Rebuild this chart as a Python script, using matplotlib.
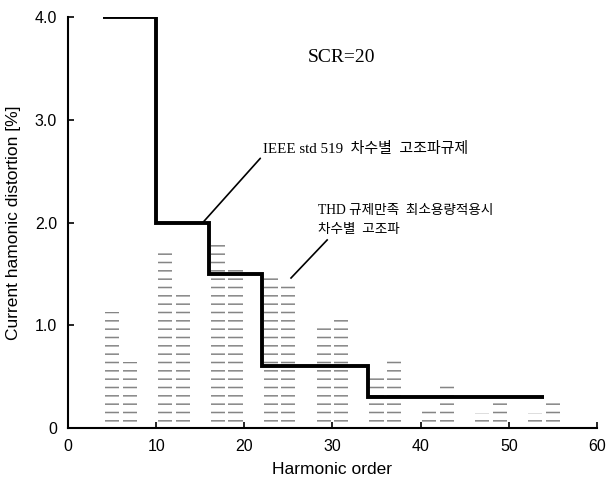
import matplotlib
matplotlib.use('Agg')
import matplotlib.pyplot as plt

# harmonic orders and measured distortion (THD-limited minimum capacity)
orders = [5, 7, 11, 13, 17, 19, 23, 25, 29, 31, 35, 37, 41, 43, 47, 49, 53, 55]
harmonics = [1.13, 0.64, 1.71, 1.34, 1.80, 1.56, 1.47, 1.42, 0.97, 1.05,
             0.52, 0.67, 0.22, 0.44, 0.15, 0.29, 0.15, 0.30]

# IEEE std 519 individual harmonic limits (SCR=20)
limit_edges = [4, 10, 16, 22, 34, 54]
limit_vals = [4.0, 2.0, 1.5, 0.6, 0.3]

x_ticks = [0, 10, 20, 30, 40, 50, 60]
y_ticks = [0, 1, 2, 3, 4]
y_ticklabels = ['0', '1.0', '2.0', '3.0', '4.0']

plt.rcParams['hatch.linewidth'] = 1.1
serif_kr = ['Liberation Serif', 'Noto Sans CJK KR']

fig = plt.figure(figsize=(6.06, 4.80), dpi=100)
ax = fig.add_axes([0.1122, 0.1083, 0.8728, 0.8563])

ax.bar(orders, harmonics, width=1.6, color='white', edgecolor='#858585',
       linewidth=0, hatch='--', zorder=1)
ax.stairs(limit_vals, limit_edges, baseline=None, color='black', linewidth=2.8, zorder=3)

ax.set_xlim(0, 60)
ax.set_ylim(0, 4.0)
ax.set_xticks(x_ticks)
ax.set_yticks(y_ticks)
ax.set_yticklabels(y_ticklabels)
ax.tick_params(direction='in', length=4, width=1.2, labelsize=11.5, pad=8)
for lab in ax.get_xticklabels() + ax.get_yticklabels():
    lab.set_family('Liberation Sans')

ax.spines['top'].set_visible(False)
ax.spines['right'].set_visible(False)
ax.spines['left'].set_linewidth(1.5)
ax.spines['bottom'].set_linewidth(1.5)

ax.set_xlabel('Harmonic order', family='Liberation Sans', fontsize=12.5, labelpad=6)
ax.set_ylabel('Current hamonic distortion [%]', family='Liberation Sans', fontsize=12.5, labelpad=10)

ax.text(31.0, 3.61, 'SCR=20', family='Liberation Serif', fontsize=14, ha='center', va='center')

ax.annotate('IEEE std 519  차수별  고조파규제', xy=(15.3, 2.0), xytext=(22.1, 2.72),
            family=serif_kr, fontsize=10.8, ha='left', va='center',
            arrowprops=dict(arrowstyle='-', color='black', lw=1.2, shrinkA=0, shrinkB=0,
                            relpos=(0.0, 0.0)))

ax.text(28.4, 2.12, 'THD 규제만족  최소용량적용시', family=serif_kr, fontsize=9.8,
        ha='left', va='center')
ax.text(28.4, 1.93, '차수별  고조파', family=serif_kr, fontsize=9.8,
        ha='left', va='center')
ax.plot([29.4, 25.3], [1.83, 1.46], color='black', lw=1.2)

fig.savefig('out.png', dpi=100)
